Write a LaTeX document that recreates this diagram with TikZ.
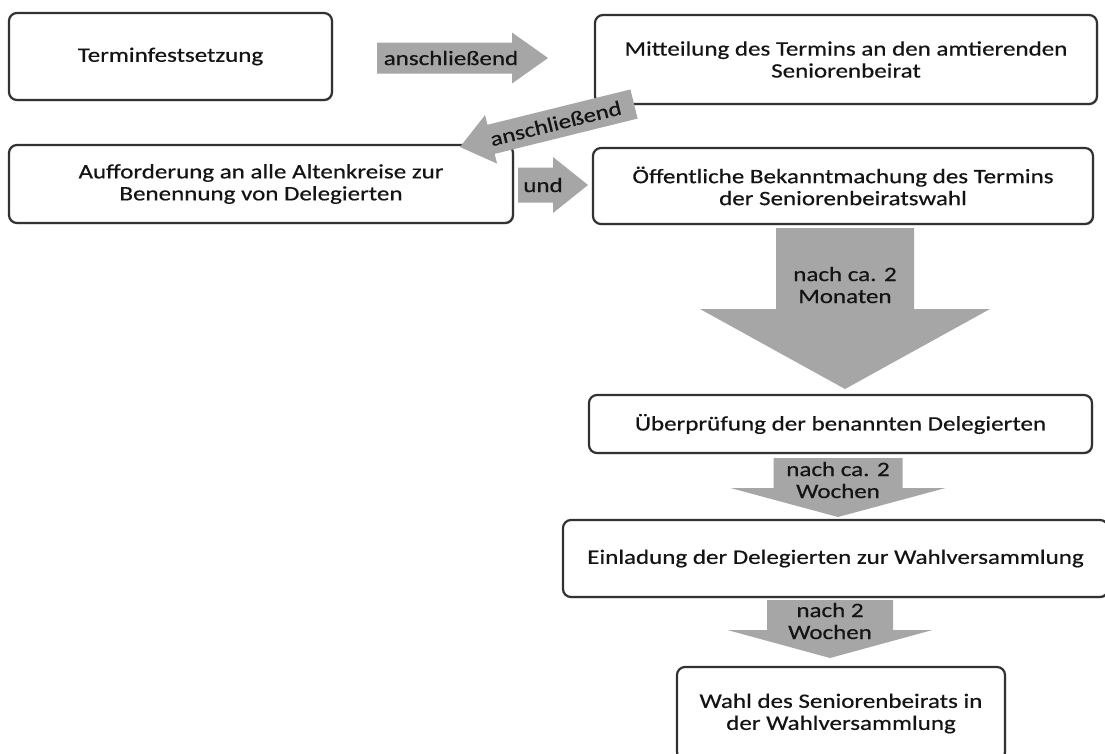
\documentclass[tikz,border=0pt]{standalone}
\usepackage{fontspec}
\setmainfont{Carlito}[FakeStretch=1.22, FakeBold=0.5]
\usetikzlibrary{calc,shadows}
\definecolor{arrowgray}{RGB}{166,166,166}
\definecolor{boxline}{RGB}{50,50,50}
\definecolor{txt}{RGB}{20,20,20}
% #1 tail, #2 tip, #3 body half width, #4 head half width, #5 head length
\newcommand{\blockarrow}[5]{%
  \path ($(#2)!#5!(#1)$) coordinate (hb);
  \fill[arrowgray] ($(#1)!#3!90:(#2)$) -- ($(hb)!#3!-90:(#1)$) -- ($(hb)!#4!-90:(#1)$) -- (#2)
    -- ($(hb)!#4!90:(#1)$) -- ($(hb)!#3!90:(#1)$) -- ($(#1)!#3!-90:(#2)$) -- cycle;
}
\begin{document}
\begin{tikzpicture}[x=1pt,y=-1pt,
  font=\fontsize{20.5}{22}\selectfont, text=txt,
  box/.style={rectangle, rounded corners=8pt, draw=boxline, line width=2.2pt, fill=white,
    align=center, inner sep=2pt,
    drop shadow={shadow xshift=1pt, shadow yshift=-1.2pt, fill=black, opacity=0.3}},
  lbl/.style={align=center, inner sep=0pt}]
\useasboundingbox (0,0) rectangle (1105,753);

% connector end points
\coordinate (a1s) at (377,58);  \coordinate (a1e) at (548,58);
\coordinate (a3s) at (518,185); \coordinate (a3e) at (588,185);
\coordinate (a4s) at (845,228); \coordinate (a4e) at (845,389);
\coordinate (a5s) at (838,458); \coordinate (a5e) at (838,517);
\coordinate (a6s) at (830,600); \coordinate (a6e) at (830,658);
\coordinate (a2s) at (634,104); \coordinate (a2e) at (460,147);

% block arrows behind the boxes
\blockarrow{a1s}{a1e}{15.5pt}{25.5pt}{36pt}
\blockarrow{a3s}{a3e}{17.5pt}{28pt}{35pt}
\blockarrow{a4s}{a4e}{69pt}{145pt}{80pt}
\blockarrow{a5s}{a5e}{64.5pt}{107.5pt}{29pt}
\blockarrow{a6s}{a6e}{63pt}{102.5pt}{28pt}

% boxes
\node[box, minimum width=323pt, minimum height=87pt] (n1) at (170.5,56.5) {Terminfestsetzung};
\node[box, minimum width=502pt, minimum height=89pt] (n2) at (846,59.5)
  {Mitteilung des Termins an den amtierenden\\Seniorenbeirat};
\node[box, minimum width=504pt, minimum height=78pt] (n3) at (261,184)
  {Aufforderung an alle Altenkreise zur\\Benennung von Delegierten};
\node[box, minimum width=500pt, minimum height=76pt] (n4) at (843,186)
  {Öffentliche Bekanntmachung des Termins\\der Seniorenbeiratswahl};
\node[box, minimum width=503pt, minimum height=58pt] (n5) at (840.5,424)
  {Überprüfung der benannten Delegierten};
\node[box, minimum width=545pt, minimum height=77pt] (n6) at (835.5,558.5)
  {Einladung der Delegierten zur Wahlversammlung};
\node[box, minimum width=328pt, minimum height=93pt] (n7) at (841,713.5)
  {Wahl des Seniorenbeirats in\\der Wahlversammlung};

% diagonal arrow on top
\blockarrow{a2s}{a2e}{15pt}{25pt}{32pt}

% arrow labels
\node[lbl] (l1) at (451,58) {anschließend};
\path (a2e) -- node[lbl, sloped, pos=0.55] (l2) {anschließend} (a2s);
\node[lbl] (l3) at (543,185) {und};
\node[lbl] (l4) at (845,285) {nach ca. 2\\Monaten};
\node[lbl] (l5) at (838,480) {nach ca. 2\\Wochen};
\node[lbl] (l6) at (830,621) {nach 2\\Wochen};
\end{tikzpicture}
\end{document}
